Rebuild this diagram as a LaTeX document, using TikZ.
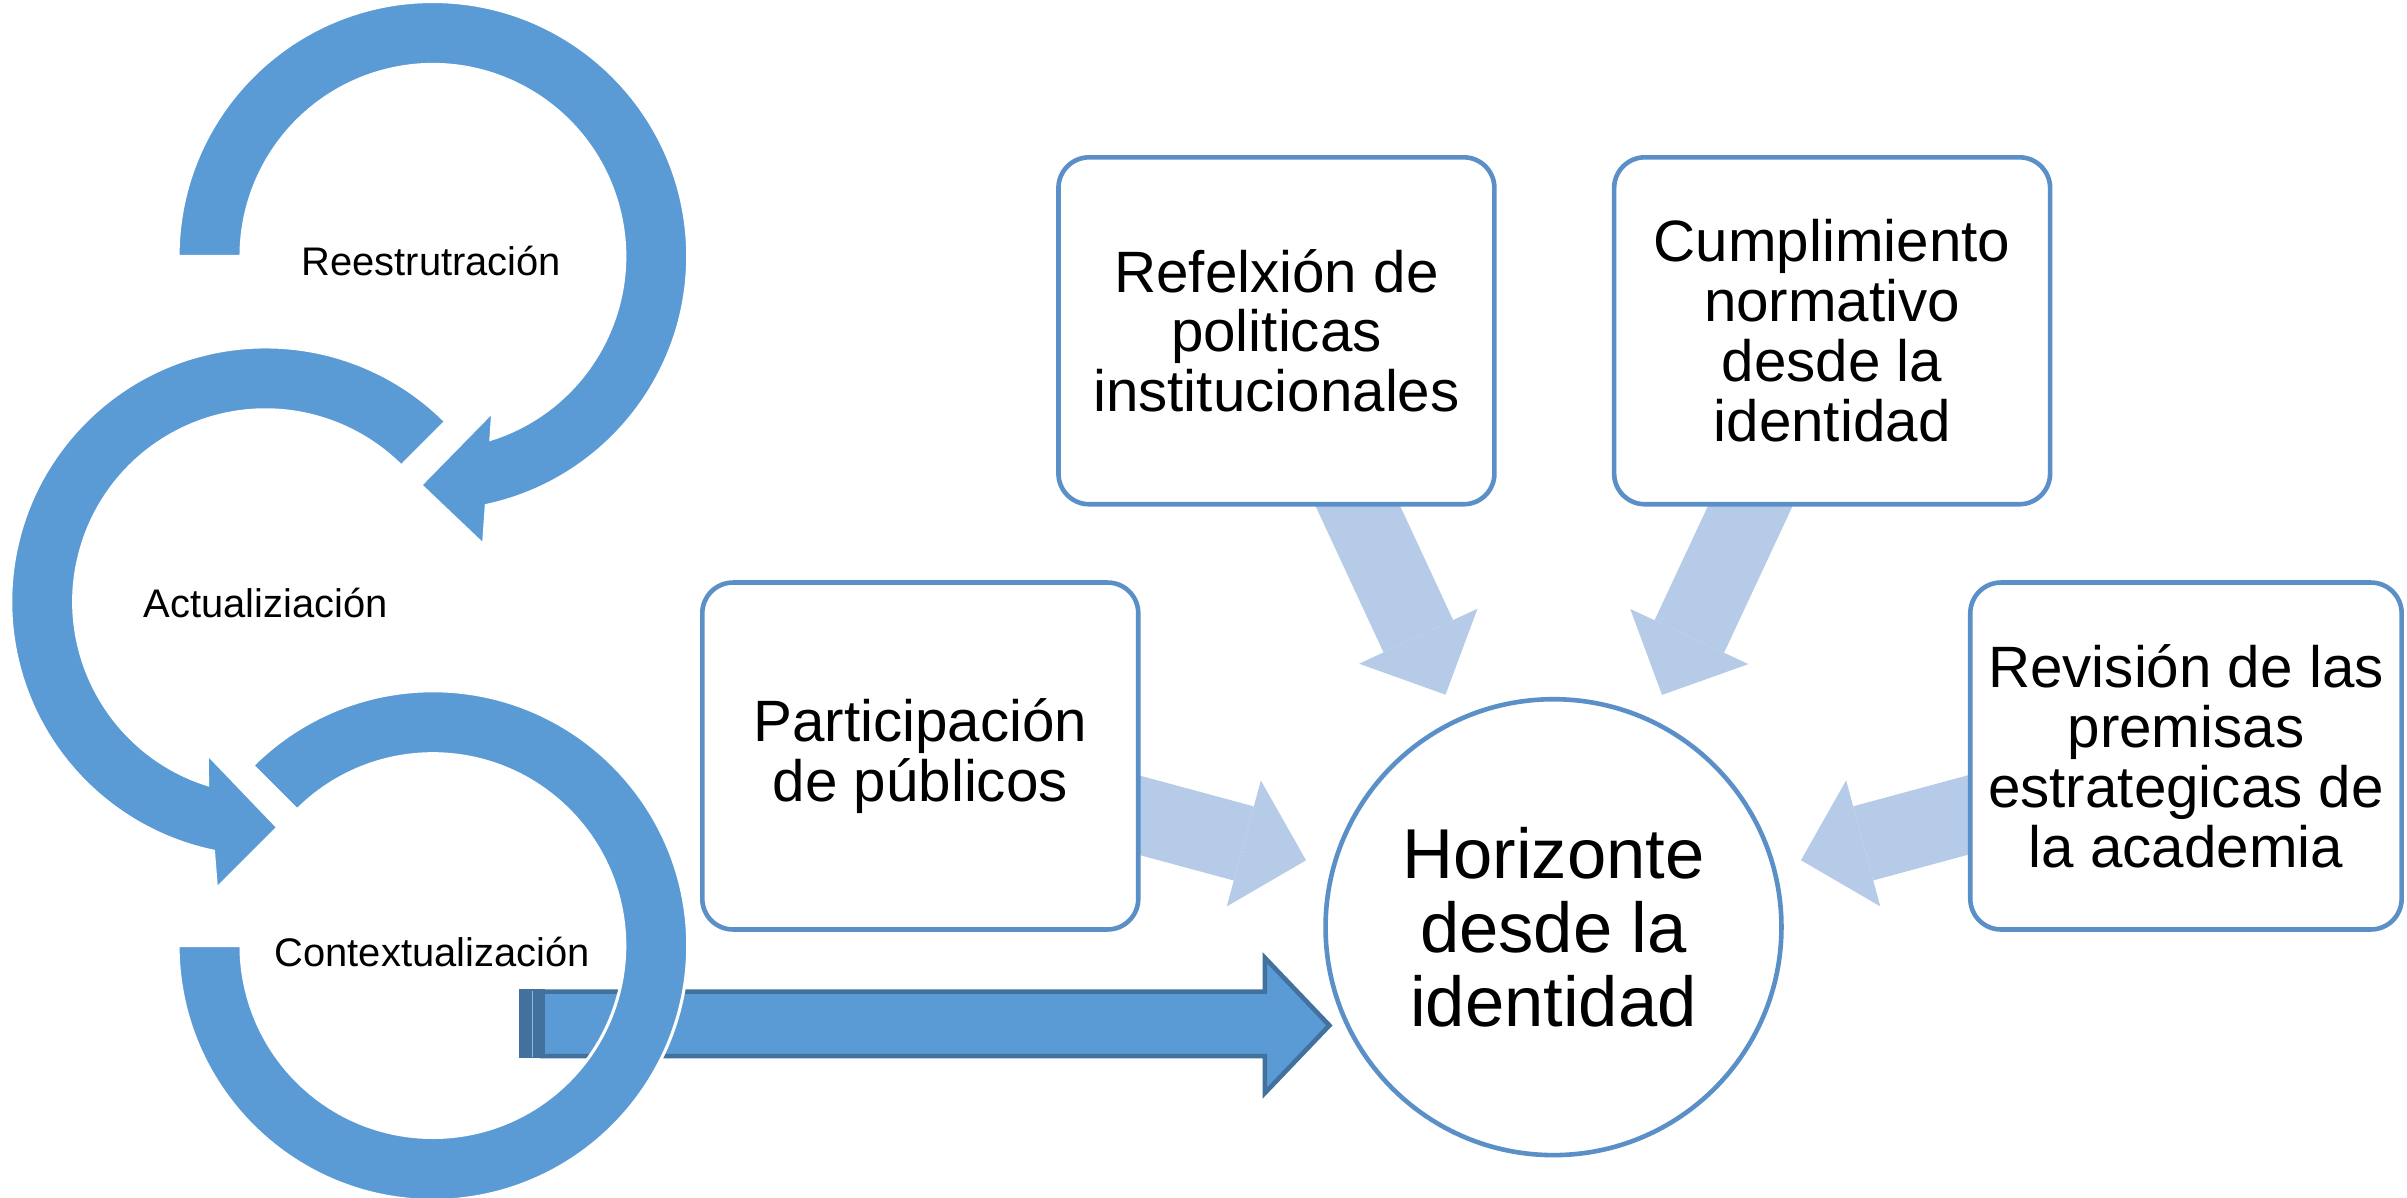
\documentclass[tikz,border=0pt]{standalone}
\usepackage{fontspec}
\setmainfont{Liberation Sans}
\usetikzlibrary{arrows.meta,backgrounds}
\definecolor{ringblue}{HTML}{5B9BD5}
\definecolor{boxline}{HTML}{5B8FC7}
\definecolor{lightarr}{HTML}{B5CBE8}
\definecolor{darkedge}{HTML}{41719C}
\begin{document}
\begin{tikzpicture}[x=0.5pt,y=0.5pt,
  infobox/.style={draw=boxline, line width=1.5pt, fill=white, rounded corners=10pt,
    minimum width=142pt, minimum height=113pt, align=center, inner sep=0pt,
    font=\fontsize{19}{19.5}\selectfont},
  goal/.style={circle, draw=boxline, line width=1.5pt, fill=white, minimum size=148.5pt,
    align=center, inner sep=0pt, font=\fontsize{23}{24}\selectfont},
  ringlabel/.style={font=\fontsize{13}{15}\selectfont, inner sep=0pt},
  ring/.style={fill=ringblue, draw=white, line width=1pt},
  feed/.style={draw=lightarr, line width=25pt,
    -{Triangle[length=21pt,width=42.5pt,line width=0pt]}, shorten >=8.5pt},
  bigarrow/.style={fill=ringblue, draw=darkedge, line width=1.5pt, line join=miter}
]
\useasboundingbox (0,0) rectangle (1568,780);

% boxes and goal circle
\node[infobox] (refl) at (831.5,564.5) {Refelxión de\\politicas\\institucionales};
\node[infobox] (cump) at (1193.5,564.5) {Cumplimiento\\normativo\\desde la\\identidad};
\node[infobox] (part) at (599.5,287.5) {Participación\\de públicos};
\node[infobox, minimum width=140.5pt] (rev) at (1424,287.5) {Revisión de las\\premisas\\estrategicas de\\la academia};
\node[goal] (hor) at (1012,176) {Horizonte\\desde la\\identidad};

% cycle labels
\node[ringlabel] (reest) at (281,610) {Reestrutración};
\node[ringlabel] (actu) at (173,387) {Actualiziación};
\node[ringlabel] (cont) at (281.5,160) {Contextualización};

\begin{pgfonlayer}{background}
  % big arrow towards the goal
  \coordinate (bigtip) at (866,112);
  \path[bigarrow] (353,92) -- (824,92) -- (824,68) -- (bigtip) -- (824,156) -- (824,134) -- (353,134) -- cycle;
  \fill[darkedge] (338,90.5) rectangle (355,135.5);
  \draw[ringblue!70!white, line width=0.5pt] (347,91.5) -- (347,134.5);

  % circular arrows
  \begin{scope}[shift={(282,613)}]
    \path[ring] (180:166) arc[start angle=180,end angle=-77.9,radius=166]
      -- (33,-188) -- (-8,-149) -- (39,-101)
      -- (-72.4:125) arc[start angle=-72.4,end angle=180,radius=125] -- cycle;
  \end{scope}
  \begin{scope}[shift={(173,388)}]
    \path[ring] (45:166) arc[start angle=45,end angle=258.2,radius=166]
      -- (-32,-187) -- (8,-147) -- (-38,-99)
      -- (252.4:125) arc[start angle=252.4,end angle=45,radius=125] -- cycle;
  \end{scope}
  \begin{scope}[shift={(282,164)}]
    \path[ring] (180:166) arc[start angle=180,end angle=495,radius=166]
      -- (135:125) arc[start angle=495,end angle=180,radius=125] -- cycle;
  \end{scope}

  % light feeding arrows
  \draw[feed] (refl.center) -- (hor);
  \draw[feed] (cump.center) -- (hor);
  \draw[feed] (part.center) -- (hor);
  \draw[feed] (rev.center) -- (hor);
\end{pgfonlayer}
\end{tikzpicture}
\end{document}
